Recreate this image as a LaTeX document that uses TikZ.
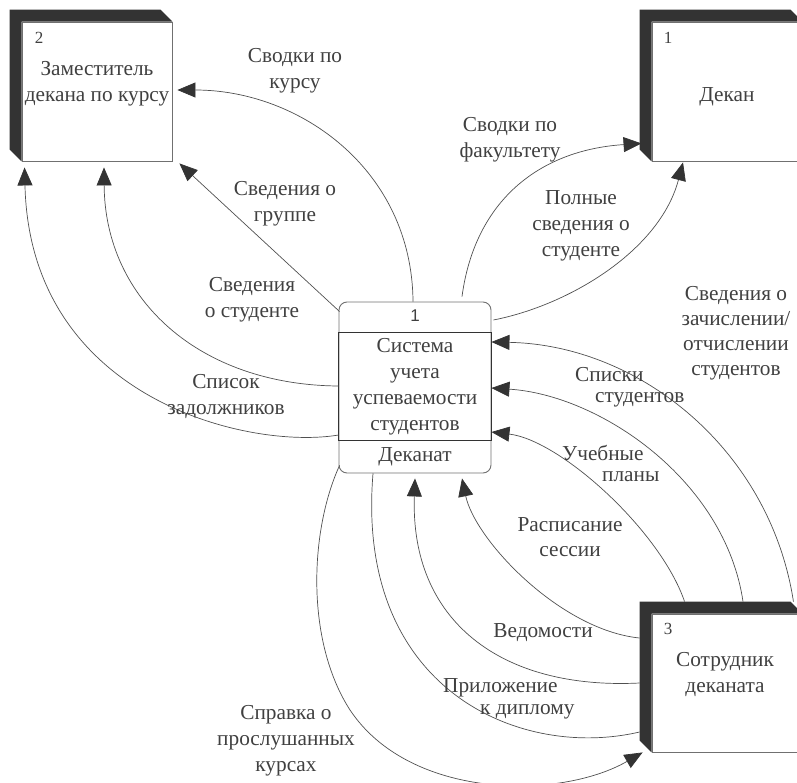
\documentclass[tikz,border=0pt]{standalone}
\usepackage{fontspec}
\setmainfont{Liberation Serif}
\newfontfamily\serf{Liberation Serif}
\newfontfamily\sansf{Liberation Sans}
\usetikzlibrary{arrows.meta,calc}
\definecolor{ln}{HTML}{505050}
\definecolor{bord}{HTML}{707070}
\definecolor{shadc}{HTML}{333333}
\definecolor{txt}{HTML}{404040}
\definecolor{arr}{HTML}{333333}
\begin{document}
\begin{tikzpicture}[x=1pt,y=-1pt,
  ent/.style={draw=bord, fill=white, line width=0.9pt, minimum width=150pt, minimum height=139pt, inner sep=0pt},
  shad/.style={fill=shadc},
  flow/.style={draw=ln, line width=0.7pt, -{Triangle[length=18pt,width=15pt,color=arr]}},
  plain/.style={draw=ln, line width=0.7pt},
  lbl/.style={align=center, inner sep=0pt, text=txt, font=\serf\fontsize{21.3}{26}\selectfont},
  num/.style={inner sep=0pt, text=txt, font=\serf\fontsize{17}{20}\selectfont}]
\useasboundingbox (0,0) rectangle (797,783);

% external entities
\node[ent] (e2) at (97,91.5) {};
\node[ent] (e1) at (727,91.5) {};
\node[ent, minimum height=138pt] (e3) at (727,683) {};
\fill[shad] (e2.south west) -- ++(-12,-12) |- ($(e2.north east)+(-12,-12)$) -- (e2.north east) -- (e2.north west) -- cycle;
\fill[shad] (e1.south west) -- ++(-12,-12) |- ($(e1.north east)+(-12,-12)$) -- (e1.north east) -- (e1.north west) -- cycle;
\fill[shad] (e3.south west) -- ++(-12,-12) |- ($(e3.north east)+(-12,-12)$) -- (e3.north east) -- (e3.north west) -- cycle;

\node[num] (n2) at (39,38) {2};
\node[num] (n1) at (668,38) {1};
\node[num] (n3) at (668,629) {3};
\node[lbl] (t2) at (97,84) {Заместитель\\декана по курсу};
\node[lbl] (t1) at (727,97) {Декан};
\node[lbl] (t3) at (725,675) {Сотрудник\\деканата};

% process
\node[draw=bord, fill=white, line width=0.9pt, rounded corners=8pt, minimum width=152pt, minimum height=171pt, inner sep=0pt] (p) at (415,387.5) {};
\draw[draw=shadc, line width=0.9pt] ($(p.north west)+(0,31)$) rectangle ($(p.south east)+(0,-33)$);
\node[inner sep=0pt, text=txt, font=\sansf\fontsize{17}{20}\selectfont] (pn) at (415,316) {1};
\node[lbl] (pt) at (415,387) {Система\\учета\\успеваемости\\студентов};
\node[lbl] (pd) at (415,457) {Деканат};

% flows
\draw[flow] ($(p.north)+(-2,0)$) .. controls (412,170) and (300,90) .. ($(e2.east)+(5,-1.5)$);
\draw[flow] ($(p.north west)+(1,10)$) -- ($(e2.south east)+(7,2)$);
\draw[flow] ($(p.west)+(0,-1.5)$) .. controls (200,385) and (105,300) .. ($(e2.south)+(7,6)$);
\draw[flow] ($(p.west)+(0,47.5)$) .. controls (250,450) and (30,400) .. ($(e2.south west)+(3,6)$);
\draw[flow] ($(p.north)+(47,-5)$) .. controls (475,200) and (540,150) .. ($(e1.south west)+(-10,-18)$);
\draw[flow] ($(p.east)+(2,-67.5)$) .. controls (570,305) and (660,250) .. ($(e1.south)+(-44,1)$);
\draw[flow] ($(e3.north east)+(-9,-12)$) .. controls (770,450) and (640,345) .. ($(p.east)+(0,-45.5)$);
\draw[flow] ($(e3.north)+(16,-12)$) .. controls (725,480) and (600,395) .. ($(p.east)+(0,0.5)$);
\draw[flow] ($(e3.north west)+(33,-12)$) .. controls (660,530) and (560,440) .. ($(p.east)+(0,44.5)$);
\draw[flow] ($(e3.west)+(-12,-45)$) .. controls (560,630) and (475,540) .. ($(p.south)+(47,5)$);
\draw[flow] ($(e3.west)+(-12,0)$) .. controls (500,690) and (410,620) .. ($(p.south)+(0,5)$);
\draw[plain] ($(p.south)+(-42,0)$) .. controls (355,690) and (520,760) .. ($(e3.west)+(-12,49)$);
\draw[flow] ($(p.south west)+(1,-8)$) .. controls (310,530) and (305,640) .. (350,710) .. controls (410,800) and (560,800) .. ($(e3.south west)+(-9,0)$);

% labels
\node[lbl] (l1) at (295,71) {Сводки по\\курсу};
\node[lbl] (l2) at (285,204) {Сведения о\\группе};
\node[lbl] (l3) at (252,300) {Сведения\\о студенте};
\node[lbl] (l4) at (226,397) {Список\\задолжников};
\node[lbl] (l5) at (510,140) {Сводки по\\факультету};
\node[lbl] (l6) at (581,226) {Полные\\сведения о\\студенте};
\node[lbl, font=\serf\fontsize{21.3}{25}\selectfont] (l7) at (736,333) {Сведения о\\зачислении/\\отчислении\\студентов};
\node[lbl, align=left, anchor=west, font=\serf\fontsize{21.3}{21}\selectfont] (l8) at (575,387) {Списки\\\hspace*{20pt}студентов};
\node[lbl, align=left, anchor=west, font=\serf\fontsize{21.3}{21}\selectfont] (l9) at (562,463) {Учебные\\\hspace*{40pt}планы};
\node[lbl, font=\serf\fontsize{21.3}{25}\selectfont] (l10) at (570,537) {Расписание\\сессии};
\node[lbl] (l11) at (543,633) {Ведомости};
\node[lbl, align=left, anchor=west, font=\serf\fontsize{21.3}{22}\selectfont] (l12) at (443,699) {Приложение\\\hspace*{37pt}к диплому};
\node[lbl] (l13) at (286,741) {Справка о\\прослушанных\\курсах};
\end{tikzpicture}
\end{document}
